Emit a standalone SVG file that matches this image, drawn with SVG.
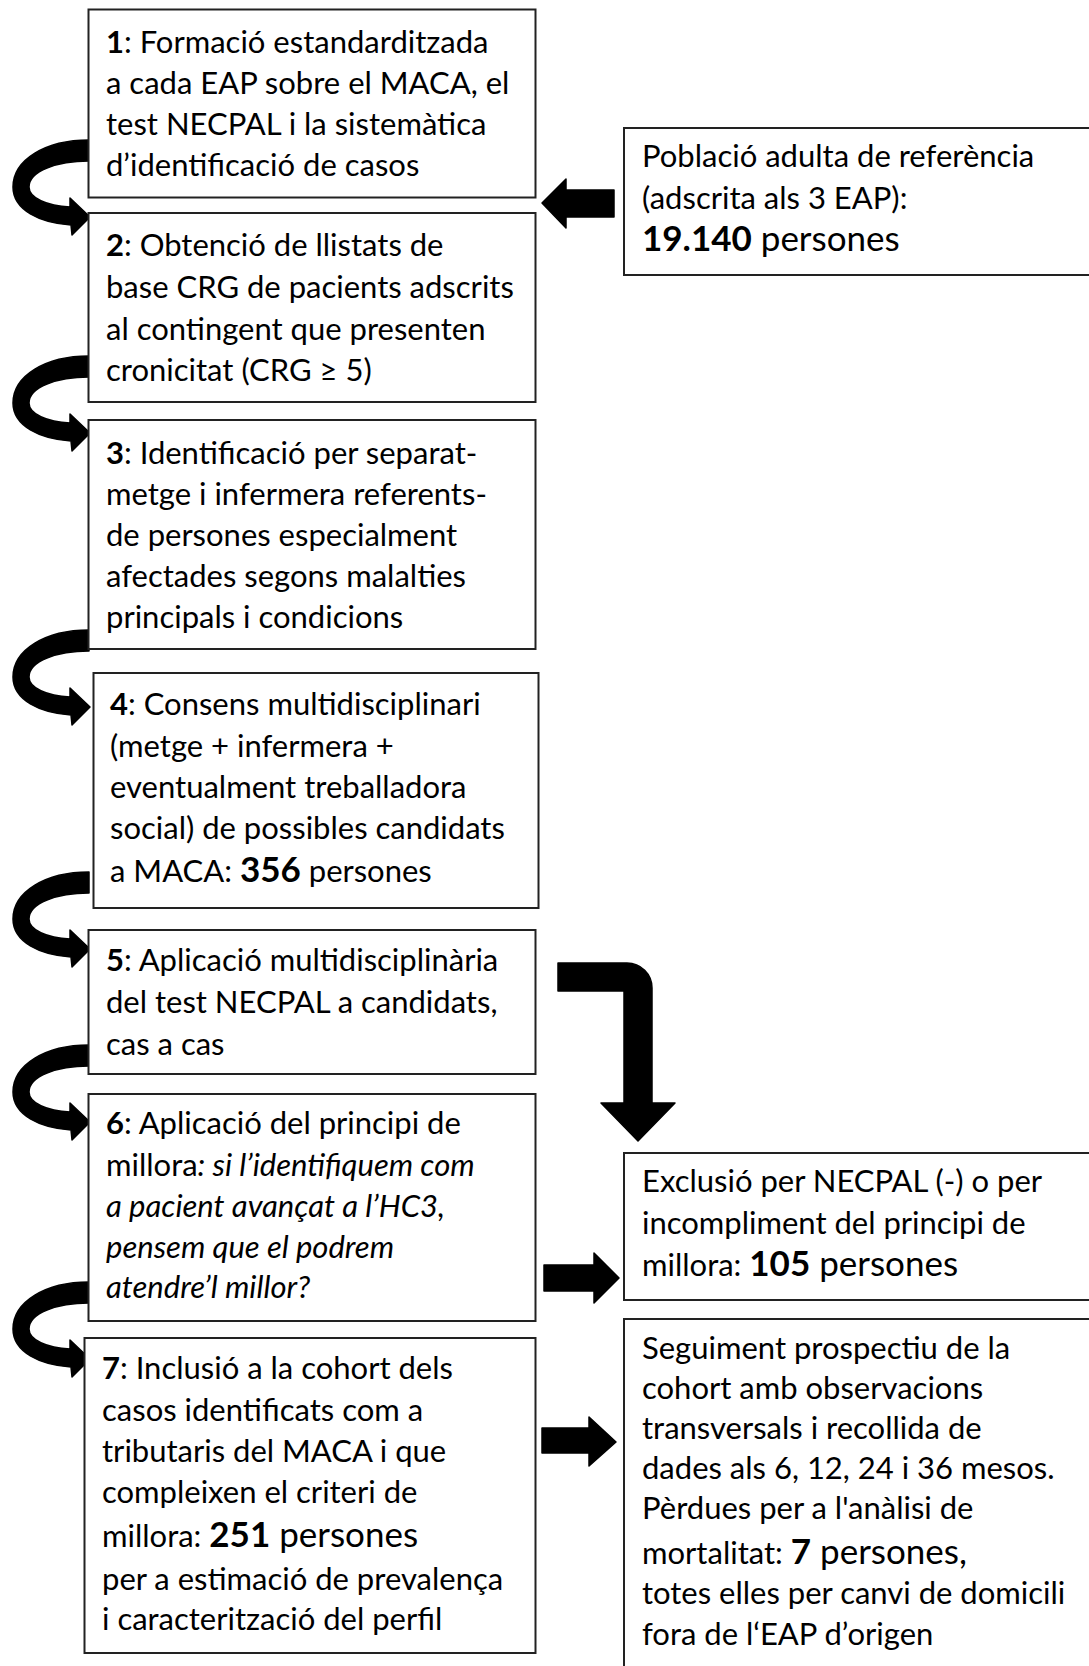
<svg xmlns="http://www.w3.org/2000/svg" xmlns:xlink="http://www.w3.org/1999/xlink" width="1089" height="1666" viewBox="0 0 1089 1666">
<style>
.box{fill:#fff;stroke:#222;stroke-width:2}
.t{font-family:Lato,"Liberation Sans",sans-serif;font-size:31px;fill:#000}
.b{font-weight:bold}
.big{font-size:35px}
.i{font-style:italic}
.arr{fill:#000;stroke:#000;stroke-width:1.5;stroke-linejoin:round}
</style>
<defs>
<path id="curve" d="M89,0 C45,0 13,20 13,47 C13,70 40,83 71,85 L72,95 L90,77 L70,58 L70,67 C47,66 29,58 29,47 C29,31 57,21 89,21 Z"/>
</defs>
<rect width="1089" height="1666" fill="#fff"/>
<g id="connectors" class="arr">
<use xlink:href="#curve" href="#curve" y="140"/>
<use xlink:href="#curve" href="#curve" y="356"/>
<use xlink:href="#curve" href="#curve" y="630"/>
<use xlink:href="#curve" href="#curve" y="872"/>
<use xlink:href="#curve" href="#curve" y="1045"/>
<use xlink:href="#curve" href="#curve" y="1282"/>
<path d="M542,203 L566,179 L566,190 L614,190 L614,217 L566,217 L566,228 Z"/>
<path d="M558,963 L627,963 A25,25 0 0 1 652,988 L652,1103 L675,1103 L638,1141 L601,1103 L624,1103 L624,991 L558,991 Z"/>
<path d="M544,1265 L594,1265 L594,1253 L619,1278 L594,1303 L594,1291 L544,1291 Z"/>
<path d="M542,1428 L589,1428 L589,1417 L616,1442 L589,1466 L589,1453 L542,1453 Z"/>
</g>
<g id="n1">
<rect class="box" x="88.5" y="9.5" width="447" height="188"/>
<text class="t" x="106" y="53"><tspan class="b">1</tspan>: Formació estandarditzada</text>
<text class="t" x="106" y="94">a cada EAP sobre el MACA, el</text>
<text class="t" x="106" y="135">test NECPAL i la sistemàtica</text>
<text class="t" x="106" y="176">d’identificació de casos</text>
</g>
<g id="n2">
<rect class="box" x="88.5" y="213" width="447" height="189"/>
<text class="t" x="106" y="256"><tspan class="b">2</tspan>: Obtenció de llistats de</text>
<text class="t" x="106" y="298">base CRG de pacients adscrits</text>
<text class="t" x="106" y="340">al contingent que presenten</text>
<text class="t" x="106" y="381">cronicitat (CRG ≥ 5)</text>
</g>
<g id="n3">
<rect class="box" x="88.5" y="420" width="447" height="229"/>
<text class="t" x="106" y="464"><tspan class="b">3</tspan>: Identificació per separat-</text>
<text class="t" x="106" y="505">metge i infermera referents-</text>
<text class="t" x="106" y="546">de persones especialment</text>
<text class="t" x="106" y="587">afectades segons malalties</text>
<text class="t" x="106" y="628">principals i condicions</text>
</g>
<g id="n4">
<rect class="box" x="93.5" y="673" width="445" height="235"/>
<text class="t" x="110" y="715"><tspan class="b">4</tspan>: Consens multidisciplinari</text>
<text class="t" x="110" y="757">(metge + infermera +</text>
<text class="t" x="110" y="798">eventualment treballadora</text>
<text class="t" x="110" y="839">social) de possibles candidats</text>
<text class="t" x="110" y="882">a MACA: <tspan class="b big">356</tspan> persones</text>
</g>
<g id="n5">
<rect class="box" x="88.5" y="930" width="447" height="144"/>
<text class="t" x="106" y="971"><tspan class="b">5</tspan>: Aplicació multidisciplinària</text>
<text class="t" x="106" y="1013">del test NECPAL a candidats,</text>
<text class="t" x="106" y="1055">cas a cas</text>
</g>
<g id="n6">
<rect class="box" x="88.5" y="1094" width="447" height="227"/>
<text class="t" x="106" y="1134"><tspan class="b">6</tspan>: Aplicació del principi de</text>
<text class="t" x="106" y="1176">millora<tspan class="i">: si l’identifiquem com</tspan></text>
<text class="t i" x="106" y="1217">a pacient avançat a l’HC3,</text>
<text class="t i" x="106" y="1258">pensem que el podrem</text>
<text class="t i" x="106" y="1298">atendre’l millor?</text>
</g>
<g id="n7">
<rect class="box" x="84.5" y="1338" width="451" height="315"/>
<text class="t" x="102" y="1379"><tspan class="b">7</tspan>: Inclusió a la cohort dels</text>
<text class="t" x="102" y="1421">casos identificats com a</text>
<text class="t" x="102" y="1462">tributaris del MACA i que</text>
<text class="t" x="102" y="1503">compleixen el criteri de</text>
<text class="t" x="102" y="1547">millora: <tspan class="b big">251</tspan><tspan class="big"> persones</tspan></text>
<text class="t" x="102" y="1590">per a estimació de prevalença</text>
<text class="t" x="102" y="1630">i caracterització del perfil</text>
</g>
<g id="r1">
<rect class="box" x="624" y="128" width="466" height="147"/>
<text class="t" x="642" y="167">Població adulta de referència</text>
<text class="t" x="642" y="209">(adscrita als 3 EAP):</text>
<text class="t" x="642" y="251"><tspan class="b big">19.140</tspan><tspan class="big"> persones</tspan></text>
</g>
<g id="r2">
<rect class="box" x="624" y="1153" width="466" height="147"/>
<text class="t" x="642" y="1192">Exclusió per NECPAL (-) o per</text>
<text class="t" x="642" y="1234">incompliment del principi de</text>
<text class="t" x="642" y="1276">millora: <tspan class="b big">105</tspan><tspan class="big"> persones</tspan></text>
</g>
<g id="r3">
<rect class="box" x="624" y="1319" width="466" height="360"/>
<text class="t" x="642" y="1359">Seguiment prospectiu de la</text>
<text class="t" x="642" y="1399">cohort amb observacions</text>
<text class="t" x="642" y="1439">transversals i recollida de</text>
<text class="t" x="642" y="1479">dades als 6, 12, 24 i 36 mesos.</text>
<text class="t" x="642" y="1519">Pèrdues per a l'anàlisi de</text>
<text class="t" x="642" y="1564">mortalitat: <tspan class="b big">7</tspan><tspan class="big"> persones,</tspan></text>
<text class="t" x="642" y="1604">totes elles per canvi de domicili</text>
<text class="t" x="642" y="1645">fora de l‘EAP d’origen</text>
</g>
</svg>
